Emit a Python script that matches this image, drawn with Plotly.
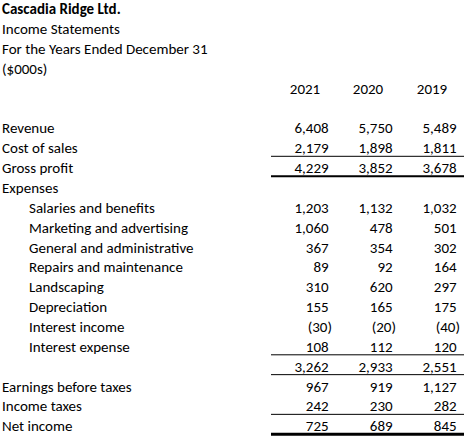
import plotly.graph_objects as go

# ---------------- data ----------------
title_lines = ["<b>Cascadia Ridge Ltd.</b>", "Income Statements",
               "For the Years Ended December 31", "($000s)"]
years = ["2021", "2020", "2019"]
labels = ["Revenue", "Cost of sales", "Gross profit", "Expenses",
          "Salaries and benefits", "Marketing and advertising",
          "General and administrative", "Repairs and maintenance",
          "Landscaping", "Depreciation", "Interest income", "Interest expense",
          "", "Earnings before taxes", "Income taxes", "Net income"]
indent = [0, 0, 0, 0, 1, 1, 1, 1, 1, 1, 1, 1, 0, 0, 0, 0]
v2021 = [6408, 2179, 4229, None, 1203, 1060, 367, 89, 310, 155, -30, 108, 3262, 967, 242, 725]
v2020 = [5750, 1898, 3852, None, 1132, 478, 354, 92, 620, 165, -20, 112, 2933, 919, 230, 689]
v2019 = [5489, 1811, 3678, None, 1032, 501, 302, 164, 297, 175, -40, 120, 2551, 1127, 282, 845]
# rows (by label index) that have a rule drawn beneath them, and rule weight
underline_rows = [1, 2, 11, 12, 14, 15]
underline_w = [1, 2, 1, 1, 1, 3]

# ---------------- layout constants ----------------
W, H = 466, 445
ROW0_PX, ROW_H = 10.6, 19.85
FIRST_BODY_ROW = 6
YEAR_ROW = 4
FONT = "Carlito, Lato, Liberation Sans, sans-serif"
FS = 15
COL_RIGHT = [332, 396, 460]    # right edge incl. hanging paren
COL_CENTER = [305, 368, 432]
X_MAIN, X_INDENT = 2, 29
LINE_X0, LINE_X1 = 271, 464
RULE_OFFSET = 0.34


def fmt(v):
    if v is None:
        return ""
    if v < 0:
        return "({:,})".format(-v)
    return "{:,}".format(v) + "\u00a0"


fig = go.Figure()
txt = dict(mode="text", hoverinfo="skip", showlegend=False,
           textfont=dict(family=FONT, size=FS, color="#000000"),
           marker=dict(size=0))

fig.add_trace(go.Scatter(x=[X_MAIN] * len(title_lines), y=list(range(len(title_lines))),
                         text=title_lines, textposition="middle right", **txt))
fig.add_trace(go.Scatter(x=COL_CENTER, y=[YEAR_ROW] * 3, text=years,
                         textposition="middle center", **txt))
body_y = [FIRST_BODY_ROW + i for i in range(len(labels))]
fig.add_trace(go.Scatter(x=[X_INDENT if ind else X_MAIN for ind in indent], y=body_y,
                         text=labels, textposition="middle right", **txt))
for col, vals in enumerate([v2021, v2020, v2019]):
    fig.add_trace(go.Scatter(x=[COL_RIGHT[col]] * len(vals), y=body_y,
                             text=[fmt(v) for v in vals],
                             textposition="middle left", **txt))

for r, w in zip(underline_rows, underline_w):
    yy = FIRST_BODY_ROW + r + RULE_OFFSET
    fig.add_shape(type="line", xref="x", yref="y", x0=LINE_X0, x1=LINE_X1,
                  y0=yy, y1=yy, line=dict(color="#000000", width=w))

y_top = -ROW0_PX / ROW_H
y_bot = (H - ROW0_PX) / ROW_H
fig.update_layout(
    width=W, height=H, margin=dict(l=0, r=0, t=0, b=0),
    paper_bgcolor="white", plot_bgcolor="white",
    xaxis=dict(range=[0, W], visible=False, fixedrange=True),
    yaxis=dict(range=[y_bot, y_top], visible=False, fixedrange=True),
)
fig.write_html("out.html", config={"displayModeBar": False},
               post_script="document.body.style.margin='0';document.body.style.overflow='hidden';")
